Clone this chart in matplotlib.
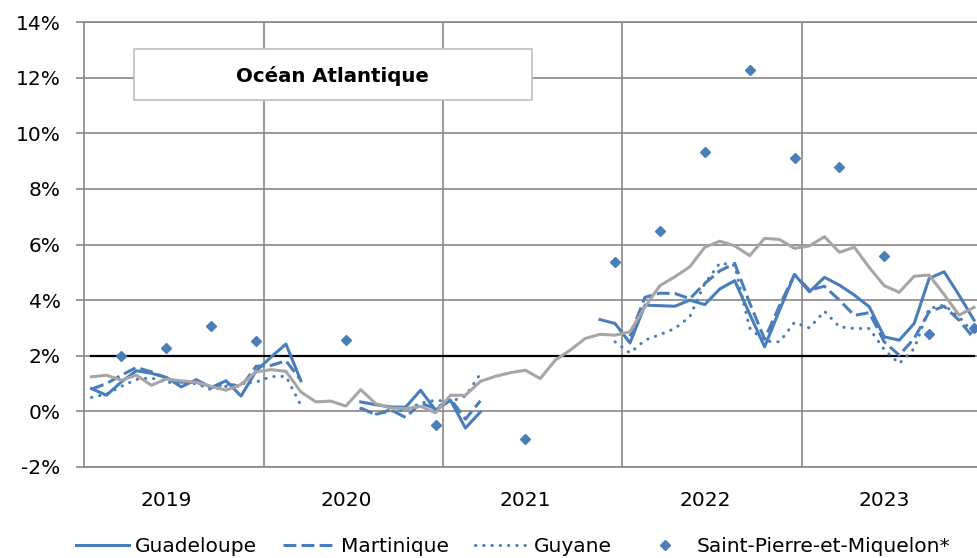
import numpy as np
import matplotlib
matplotlib.use("Agg")
import matplotlib.pyplot as plt
from matplotlib.patches import Rectangle
from matplotlib.lines import Line2D

nan = np.nan

# monthly inflation, Jan 2019 .. Dec 2023 (%)
years = ["2019", "2020", "2021", "2022", "2023"]

guadeloupe = [0.82, 0.58, 1.06, 1.46, 1.37, 1.22, 0.88, 1.14, 0.86, 1.10, 0.55, 1.45,
              1.95, 2.42, 1.10, nan, nan, nan, 0.34, 0.24, 0.16, 0.15, 0.76, 0.05,
              0.40, -0.60, -0.02, nan, nan, nan, nan, nan, nan, nan, 3.30, 3.16,
              2.46, 3.82, 3.80, 3.78, 4.00, 3.84, 4.40, 4.70, 3.50, 2.32, 3.64, 4.92,
              4.30, 4.82, 4.54, 4.18, 3.76, 2.68, 2.56, 3.16, 4.78, 5.02, 4.18, 3.28]

martinique = [0.80, 1.00, 1.30, 1.58, 1.42, 1.20, 1.05, 1.05, 0.85, 1.00, 0.88, 1.62,
              1.65, 1.82, 1.12, nan, nan, nan, 0.12, -0.12, 0.06, -0.22, 0.30, 0.10,
              0.45, -0.28, 0.38, nan, nan, nan, nan, nan, nan, nan, nan, nan,
              2.70, 4.10, 4.25, 4.24, 4.05, 4.60, 5.05, 5.32, 3.90, 2.60, 3.80, 4.92,
              4.36, 4.50, 4.00, 3.45, 3.55, 2.50, 2.02, 2.62, 3.58, 3.78, 3.28, 2.62]

guyane = [0.50, 0.62, 0.90, 1.15, 1.20, 1.05, 1.00, 1.00, 0.78, 0.90, 1.00, 1.05,
          1.25, 1.26, 0.22, nan, nan, nan, 0.10, -0.10, 0.00, 0.05, 0.30, 0.40,
          0.35, 0.55, 1.35, nan, nan, nan, nan, nan, nan, nan, nan, 2.50,
          2.10, 2.56, 2.76, 2.98, 3.40, 4.60, 5.33, 5.25, 3.00, 2.52, 2.50, 3.20,
          3.00, 3.60, 3.04, 2.98, 2.98, 2.22, 1.72, 2.26, 3.70, 3.82, 3.40, 2.80]

france = [1.24, 1.30, 1.12, 1.30, 0.94, 1.16, 1.10, 1.05, 0.90, 0.76, 0.97, 1.42,
          1.50, 1.44, 0.70, 0.34, 0.37, 0.19, 0.78, 0.28, 0.12, 0.10, 0.18, -0.05,
          0.58, 0.58, 1.08, 1.26, 1.39, 1.48, 1.18, 1.84, 2.20, 2.62, 2.77, 2.74,
          2.86, 3.76, 4.52, 4.84, 5.20, 5.90, 6.12, 5.95, 5.60, 6.22, 6.18, 5.86,
          5.95, 6.28, 5.72, 5.90, 5.17, 4.52, 4.28, 4.86, 4.90, 4.20, 3.46, 3.74]

# Saint-Pierre-et-Miquelon: quarterly (last month of quarter)
spm_month = [2, 5, 8, 11, 17, 23, 29, 35, 38, 41, 44, 47, 50, 53, 56, 59]
spm_value = [1.99, 2.28, 3.06, 2.53, 2.56, -0.50, -0.98, 5.36, 6.49, 9.32,
             12.26, 9.10, 8.77, 5.59, 2.80, 2.98]

target = 2.0

blue = "#4A7EBB"
gray = "#A6A6A6"
grid = "#878787"

plt.rcParams["font.family"] = ["DejaVu Sans"]
fs = 14.5

fig = plt.figure(figsize=(9.78, 5.58), dpi=100)
W, H = 978, 558
ax = fig.add_axes([84 / W, 1 - 467 / H, (981.5 - 84) / W, (467 - 22) / H])

x = np.arange(60) + 0.5

ax.plot(x, [target] * 60, color="black", lw=1.6, zorder=3)
ax.plot(x, guadeloupe, color=blue, lw=2.2, zorder=4)
ax.plot(x, martinique, color=blue, lw=2.2, ls=(0, (4.2, 1.7)), zorder=4)
ax.plot(x, guyane, color=blue, lw=2.2, ls=(0, (0.1, 2.6)),
        dash_capstyle="round", zorder=4)
ax.plot(x, france, color=gray, lw=2.2, zorder=5)
ax.plot(np.array(spm_month) + 0.5, spm_value, ls="none", marker="D",
        ms=5.2, color=blue, zorder=6)

ax.set_xlim(0, 60)
ax.set_ylim(-2, 14)
ax.set_yticks(np.arange(-2, 15, 2))
ax.set_yticklabels([f"{v}%" for v in range(-2, 15, 2)], fontsize=fs)
ax.set_xticks([12, 24, 36, 48])
ax.set_xticklabels([])
ax.set_xticks([5.5, 17.5, 29.5, 41.5, 53.5], minor=True)
ax.set_xticklabels(years, minor=True, fontsize=fs)
ax.tick_params(axis="x", which="both", length=0)
ax.tick_params(axis="x", which="minor", pad=17)
ax.tick_params(axis="y", length=5.8, width=1.2, color=grid, pad=11)
ax.grid(True, which="major", color=grid, lw=1.2)
ax.set_axisbelow(True)
for side in ["left", "top", "bottom", "right"]:
    ax.spines[side].set_color(grid)
    ax.spines[side].set_linewidth(1.2)

# title box
fig.patches.append(Rectangle((134 / W, 1 - 100 / H), (532 - 134) / W, 51 / H,
                             transform=fig.transFigure, facecolor="white",
                             edgecolor="#BFBFBF", lw=1.2, zorder=10))
fig.text(332 / W, 1 - 76 / H, "Océan Atlantique", ha="center", va="center",
         fontsize=14.2, fontweight="bold", zorder=11)

handles = [
    Line2D([], [], color=blue, lw=2.2),
    Line2D([], [], color=blue, lw=2.2, ls=(0, (4.2, 1.7))),
    Line2D([], [], color=blue, lw=2.2, ls=(0, (0.1, 2.6)), dash_capstyle="round"),
    Line2D([], [], color=blue, ls="none", marker="D", ms=5.2),
]
labels = ["Guadeloupe", "Martinique", "Guyane", "Saint-Pierre-et-Miquelon*"]
fig.legend(handles, labels, loc="center left", bbox_to_anchor=(76 / W, 1 - 547 / H),
           ncol=4, frameon=False, fontsize=fs, handlelength=2.65,
           handletextpad=0.25, columnspacing=1.3, borderpad=0, borderaxespad=0)

fig.savefig("out.png", dpi=100)
